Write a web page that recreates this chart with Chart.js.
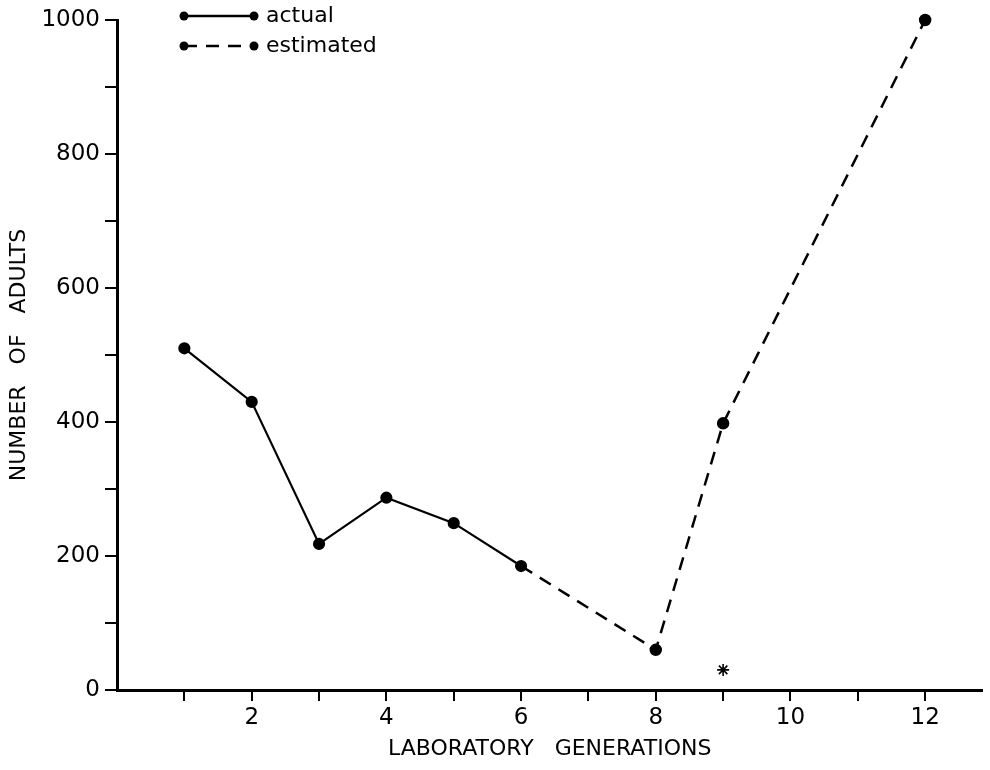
<!DOCTYPE html>
<html>
<head>
<meta charset="utf-8">
<script src="https://cdn.jsdelivr.net/npm/chart.js@4/dist/chart.umd.min.js"></script>
<style>
  html, body { margin: 0; padding: 0; background: #fff; }
  #wrap { width: 990px; height: 770px; }
</style>
</head>
<body>
<div id="wrap"><canvas id="chart" width="990" height="770"></canvas></div>
<script>
// values
const actualGen = [1, 2, 3, 4, 5, 6];
const actualAdults = [510, 430, 218, 287, 249, 185];
const estGen = [6, 8, 9, 12];
const estAdults = [185, 60, 398, 1000];
const starGen = [9];
const starAdults = [30];
const xTicks = [1, 2, 3, 4, 5, 6, 7, 8, 9, 10, 11, 12];
const xLabels = [2, 4, 6, 8, 10, 12];
const yLabels = [0, 200, 400, 600, 800, 1000];

const font = "'DejaVu Sans', sans-serif";

// little legend drawn inside the plot, top left
const innerLegend = {
  id: "innerLegend",
  afterDraw(chart) {
    const ctx = chart.ctx;
    const items = chart.data.datasets.filter((d) => d.inLegend);
    ctx.save();
    items.forEach((d, i) => {
      const y = 16 + i * 30;
      ctx.strokeStyle = "#000";
      ctx.lineWidth = 2.5;
      ctx.setLineDash(d.borderDash || []);
      ctx.beginPath();
      ctx.moveTo(184, y);
      ctx.lineTo(254, y);
      ctx.stroke();
      ctx.setLineDash([]);
      ctx.fillStyle = "#000";
      [184, 254].forEach((x) => {
        ctx.beginPath();
        ctx.arc(x, y, 4.5, 0, Math.PI * 2);
        ctx.fill();
      });
      ctx.font = "22px " + font;
      ctx.textBaseline = "middle";
      ctx.fillText(d.label, 266, y);
    });
    ctx.restore();
  },
};

new Chart(document.getElementById("chart"), {
  type: "scatter",
  data: {
    datasets: [
      {
        label: "actual",
        inLegend: true,
        data: actualGen.map((g, i) => ({ x: g, y: actualAdults[i] })),
        showLine: true,
        borderColor: "#000",
        backgroundColor: "#000",
        borderWidth: 2.2,
        pointRadius: 5,
        clip: false,
      },
      {
        label: "estimated",
        inLegend: true,
        data: estGen.map((g, i) => ({ x: g, y: estAdults[i] })),
        showLine: true,
        borderColor: "#000",
        backgroundColor: "#000",
        borderWidth: 2.5,
        borderDash: [13, 9],
        pointRadius: [0, 5, 5, 5],
        clip: false,
      },
      {
        label: "*",
        data: starGen.map((g, i) => ({ x: g, y: starAdults[i] })),
        pointStyle: "star",
        pointRadius: 6,
        borderColor: "#000",
        borderWidth: 1.6,
        clip: false,
      },
    ],
  },
  options: {
    responsive: false,
    animation: false,
    layout: { padding: { top: 20, right: 5, left: 0, bottom: 0 } },
    plugins: { legend: { display: false }, tooltip: { enabled: false } },
    scales: {
      x: {
        type: "linear",
        min: 0,
        max: 12.85,
        afterFit: (s) => { s.height = 80; },
        afterBuildTicks: (s) => {
          s.ticks = xTicks.map((v) => ({ value: v }));
        },
        ticks: {
          color: "#000",
          padding: 3,
          maxRotation: 0,
          autoSkip: false,
          font: { family: font, size: 23 },
          callback: (v) => (xLabels.includes(v) ? String(v) : ""),
        },
        grid: { drawOnChartArea: false, tickLength: 11, color: "#000", lineWidth: 2 },
        border: { display: true, color: "#000", width: 3 },
        title: {
          display: true,
          text: "LABORATORY   GENERATIONS",
          color: "#000",
          font: { family: font, size: 22 },
          padding: { top: 0, bottom: 8 },
        },
      },
      y: {
        min: 0,
        max: 1000,
        afterFit: (s) => { s.width = 117; },
        ticks: {
          stepSize: 100,
          color: "#000",
          padding: 5,
          autoSkip: false,
          font: { family: font, size: 23 },
          callback: (v) => (yLabels.includes(v) ? String(v) : ""),
        },
        grid: { drawOnChartArea: false, tickLength: 12, color: "#000", lineWidth: 2 },
        border: { display: true, color: "#000", width: 3 },
        title: {
          display: true,
          text: "NUMBER   OF   ADULTS",
          color: "#000",
          font: { family: font, size: 22 },
          padding: { top: 6, bottom: 0 },
        },
      },
    },
  },
  plugins: [innerLegend],
});
</script>
</body>
</html>
